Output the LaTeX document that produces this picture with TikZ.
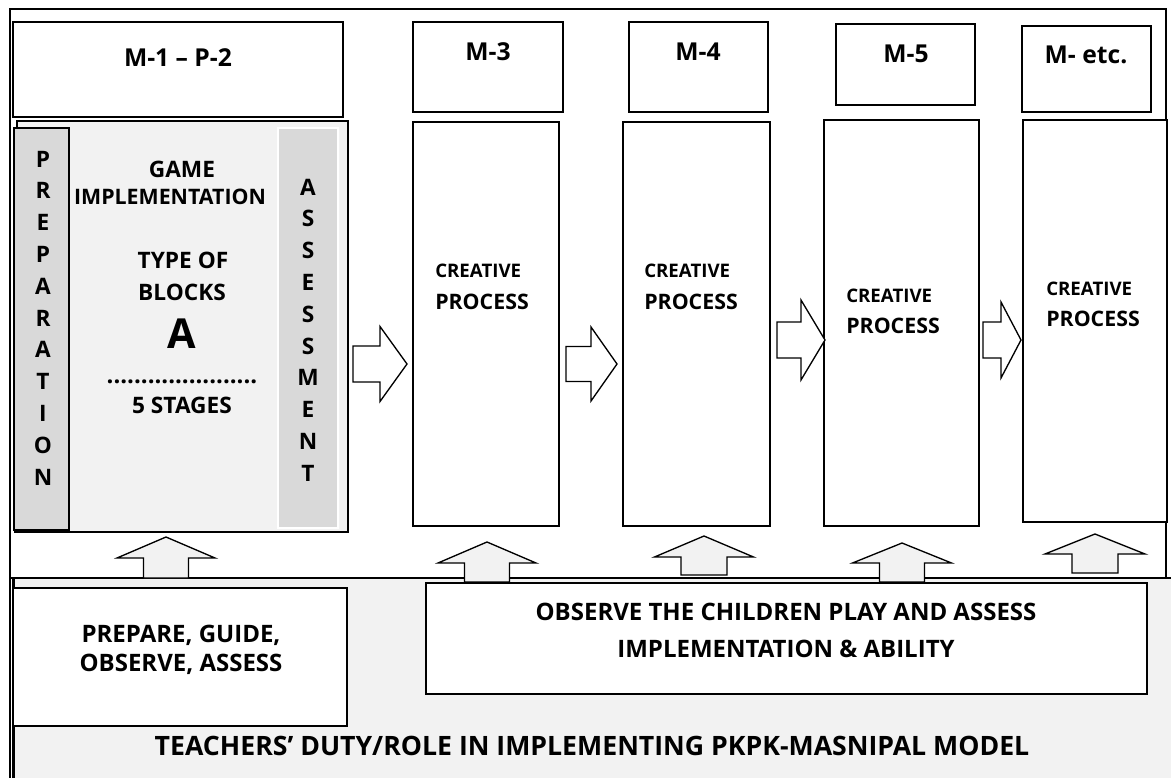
\documentclass[tikz,border=0pt]{standalone}
\usepackage{fontspec}
\setmainfont{Open Sans}
\usetikzlibrary{positioning,calc}
\definecolor{panelc}{HTML}{F2F2F2}
\definecolor{stripc}{HTML}{D9D9D9}
\tikzset{
  hbox/.style={draw=black,line width=1.5pt,fill=white,inner sep=0pt},
  pbox/.style={draw=black,line width=1.1pt,fill=white,inner sep=0pt},
  tbox/.style={draw=black,line width=1.3pt,fill=white,inner sep=0pt},
  htxt/.style={font=\bfseries\fontsize{18.5}{20}\selectfont,anchor=base,inner sep=0pt},
  gtxt/.style={font=\bfseries\fontsize{17}{19}\selectfont,anchor=base,inner sep=0pt},
  vtxt/.style={gtxt},
  ctxt/.style={font=\bfseries\fontsize{14}{16}\selectfont,anchor=base west,inner sep=0pt},
  prtxt/.style={font=\bfseries\fontsize{16}{18}\selectfont,anchor=base west,inner sep=0pt},
  btxt/.style={font=\bfseries\fontsize{18}{20}\selectfont,anchor=base,inner sep=0pt},
  otxt/.style={font=\bfseries\fontsize{18}{20}\selectfont,anchor=base,inner sep=0pt},
  blk/.style={draw=black,line width=1pt,fill=white,line join=miter},
  ublk/.style={blk,fill=panelc},
}
% box node from its corners (pixel units)
\newcommand{\boxat}[6]{%
  \node[#6,minimum width={(#4-#2)*0.75pt},minimum height={(#5-#3)*0.75pt}] (#1) at ({(#2+#4)/2},{(#3+#5)/2}) {};}
% block arrow to the right: shaft left, head base, tip, y, half shaft, half head
\newcommand{\rarr}[6]{%
  \draw[blk] (#1,{#4-#5}) -- (#2,{#4-#5}) -- (#2,{#4-#6}) -- (#3,#4) -- (#2,{#4+#6}) -- (#2,{#4+#5}) -- (#1,{#4+#5}) -- cycle;}
% block arrow upwards: x, tip, wings, bottom, half shaft, half head
\newcommand{\uarr}[6]{%
  \draw[ublk] ({#1-#5},#4) -- ({#1-#5},#3) -- ({#1-#6},#3) -- (#1,#2) -- ({#1+#6},#3) -- ({#1+#5},#3) -- ({#1+#5},#4) -- cycle;}

\begin{document}
\begin{tikzpicture}[x=0.75pt,y=-0.75pt]
  \useasboundingbox (0,0) rectangle (1171,778);
  % outer frame
  \draw[line width=1.1pt] (10,778) -- (10,9) -- (1166,9) -- (1166,578);
  % headers
  \boxat{h1}{13}{22}{343}{117}{hbox}
  \boxat{h3}{413}{22}{563}{112}{hbox}
  \boxat{h4}{629}{22}{768}{112}{hbox}
  \boxat{h5}{836}{24}{975}{105}{hbox}
  \boxat{he}{1022}{26}{1151}{112}{hbox}
  \node[htxt] (t1) at (178,66) {M-1 – P-2};
  \node[htxt] (t3) at (488,60) {M-3};
  \node[htxt] (t4) at (698,60) {M-4};
  \node[htxt] (t5) at (906,62) {M-5};
  \node[htxt] (te) at (1086,63) {M- etc.};
  % first month block
  \boxat{m1}{17}{121}{348}{532}{draw=black,line width=2pt,fill=panelc}
  \boxat{prep}{14}{128}{69}{530}{draw=black,line width=1pt,fill=stripc}
  \boxat{assm}{278}{128}{338}{528}{draw=white,line width=1.2pt,fill=stripc}
  \draw[line width=2pt] (14,532) -- (348,532);
  \foreach \c [count=\k from 0] in {P,R,E,P,A,R,A,T,I,O,N}
    \node[vtxt] (pr-\k) at (43,{167+\k*31.8}) {\c};
  \foreach \c [count=\k from 0] in {A,S,S,E,S,S,M,E,N,T}
    \node[vtxt] (as-\k) at (308,{195+\k*31.8}) {\c};
  \node[gtxt] (game) at (182,177) {GAME};
  \node[gtxt,font=\bfseries\fontsize{16}{18}\selectfont] (impl) at (170,204) {IMPLEMENTATION};
  \node[gtxt] (type) at (183,268) {TYPE OF};
  \node[gtxt] (blck) at (182,300) {BLOCKS};
  \node[gtxt,font=\bfseries\fontsize{31}{33}\selectfont] (blka) at (182,348) {A};
  \node[gtxt,font=\bfseries\fontsize{18}{20}\selectfont] (dots) at (182,383) {......................};
  \node[gtxt] (stg) at (182,413) {5 STAGES};
  % creative process columns
  \boxat{p3}{413}{122}{559}{526}{pbox}
  \boxat{p4}{623}{122}{770}{526}{pbox}
  \boxat{p5}{824}{120}{979}{526}{pbox}
  \boxat{pe}{1023}{120}{1167}{522}{pbox}
  \node[ctxt] (c3) at (435,277) {CREATIVE};
  \node[prtxt] (r3) at (435,309) {PROCESS};
  \node[ctxt] (c4) at (644,277) {CREATIVE};
  \node[prtxt] (r4) at (644,309) {PROCESS};
  \node[ctxt] (c5) at (846,302) {CREATIVE};
  \node[prtxt] (r5) at (846,333) {PROCESS};
  \node[ctxt] (ce) at (1046,295) {CREATIVE};
  \node[prtxt] (re) at (1046,326) {PROCESS};
  \rarr{353}{380}{407}{364}{18}{37.5}
  \rarr{566}{591}{617}{364}{17.5}{37}
  \rarr{777}{801}{825}{340}{18}{40}
  \rarr{983}{1001}{1021}{340}{18}{38}
  % teachers' panel
  \fill[panelc] (14,578) rectangle (1171,778);
  \draw[line width=2.2pt] (10,578) -- (1171,578);
  \draw[line width=2pt] (13.5,578) -- (13.5,778);
  \uarr{166}{537}{558}{578}{22.5}{49}
  \uarr{487}{542}{563}{582}{22.5}{49}
  \uarr{704}{536}{557}{575}{23}{49.5}
  \uarr{902}{543}{563}{582}{22.5}{49.5}
  \uarr{1095}{534}{554}{573}{23}{50}
  \boxat{tp}{13}{588}{347}{726}{tbox}
  \boxat{to}{426}{583}{1147}{694}{tbox}
  \node[btxt] (tp1) at (181,642) {PREPARE, GUIDE,};
  \node[btxt] (tp2) at (181,671) {OBSERVE, ASSESS};
  \node[otxt] (to1) at (786,620) {OBSERVE THE CHILDREN PLAY AND ASSESS};
  \node[otxt] (to2) at (786,657) {IMPLEMENTATION \& ABILITY};
  \node[otxt,font=\bfseries\fontsize{20}{22}\selectfont] (role) at (592,755) {TEACHERS’ DUTY/ROLE IN IMPLEMENTING PKPK-MASNIPAL MODEL};
\end{tikzpicture}
\end{document}
